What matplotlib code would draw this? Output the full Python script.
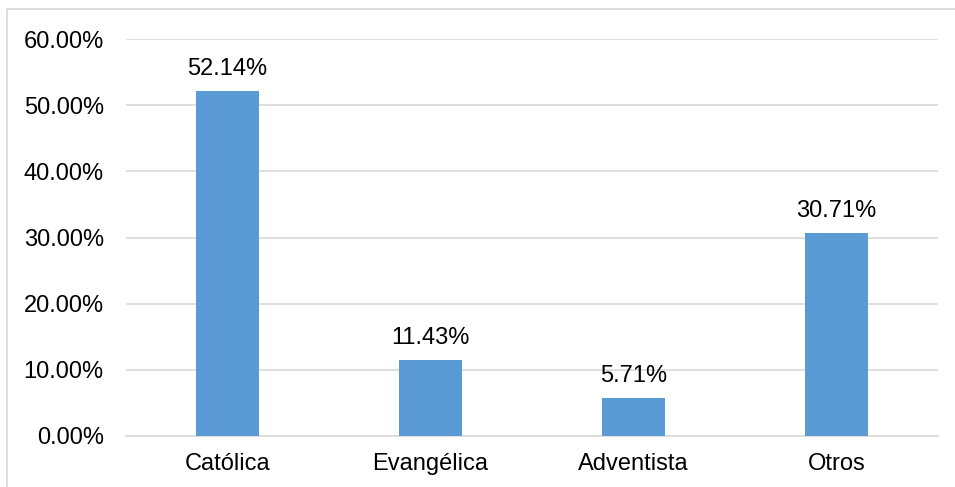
import matplotlib
matplotlib.use("Agg")
import matplotlib.pyplot as plt
from matplotlib.patches import Rectangle

categories = ["Católica", "Evangélica", "Adventista", "Otros"]
values = [52.14, 11.43, 5.71, 30.71]
yticks = [0, 10, 20, 30, 40, 50, 60]

plt.rcParams['font.family'] = ['Liberation Sans', 'DejaVu Sans']

fig = plt.figure(figsize=(9.55, 4.87), dpi=100)
# outer chart frame
fig.patches.append(Rectangle((7/955, -0.05), 1.2, 1 - 9/487 + 0.05, transform=fig.transFigure,
                             fill=False, edgecolor="#D9D9D9", linewidth=1.2))
ax = fig.add_axes([126/955, 1 - 436/487, (938 - 126)/955, (436 - 39)/487])

x = range(len(categories))
ax.bar(x, values, width=0.31, color="#5B9BD5", zorder=3)
for xi, v in zip(x, values):
    ax.annotate(f"{v:.2f}%", (xi, v), xytext=(0, 8), textcoords="offset points",
                ha="center", va="bottom", fontsize=17, color="#000000")

ax.set_xlim(-0.5, len(categories) - 0.5)
ax.set_ylim(0, 60)
ax.set_yticks(yticks)
ax.set_yticklabels([f"{t:.2f}%" for t in yticks], fontsize=17)
ax.set_xticks(list(x))
ax.set_xticklabels(categories, fontsize=17)
ax.grid(axis="y", color="#D9D9D9", linewidth=1.2, zorder=0)
for s in ["top", "right", "left"]:
    ax.spines[s].set_visible(False)
ax.spines["bottom"].set_color("#D9D9D9")
ax.spines["bottom"].set_linewidth(1.2)
ax.tick_params(axis="both", length=0)
ax.tick_params(axis="y", pad=16)
ax.tick_params(axis="x", pad=12)

fig.savefig("out.png", dpi=100)
